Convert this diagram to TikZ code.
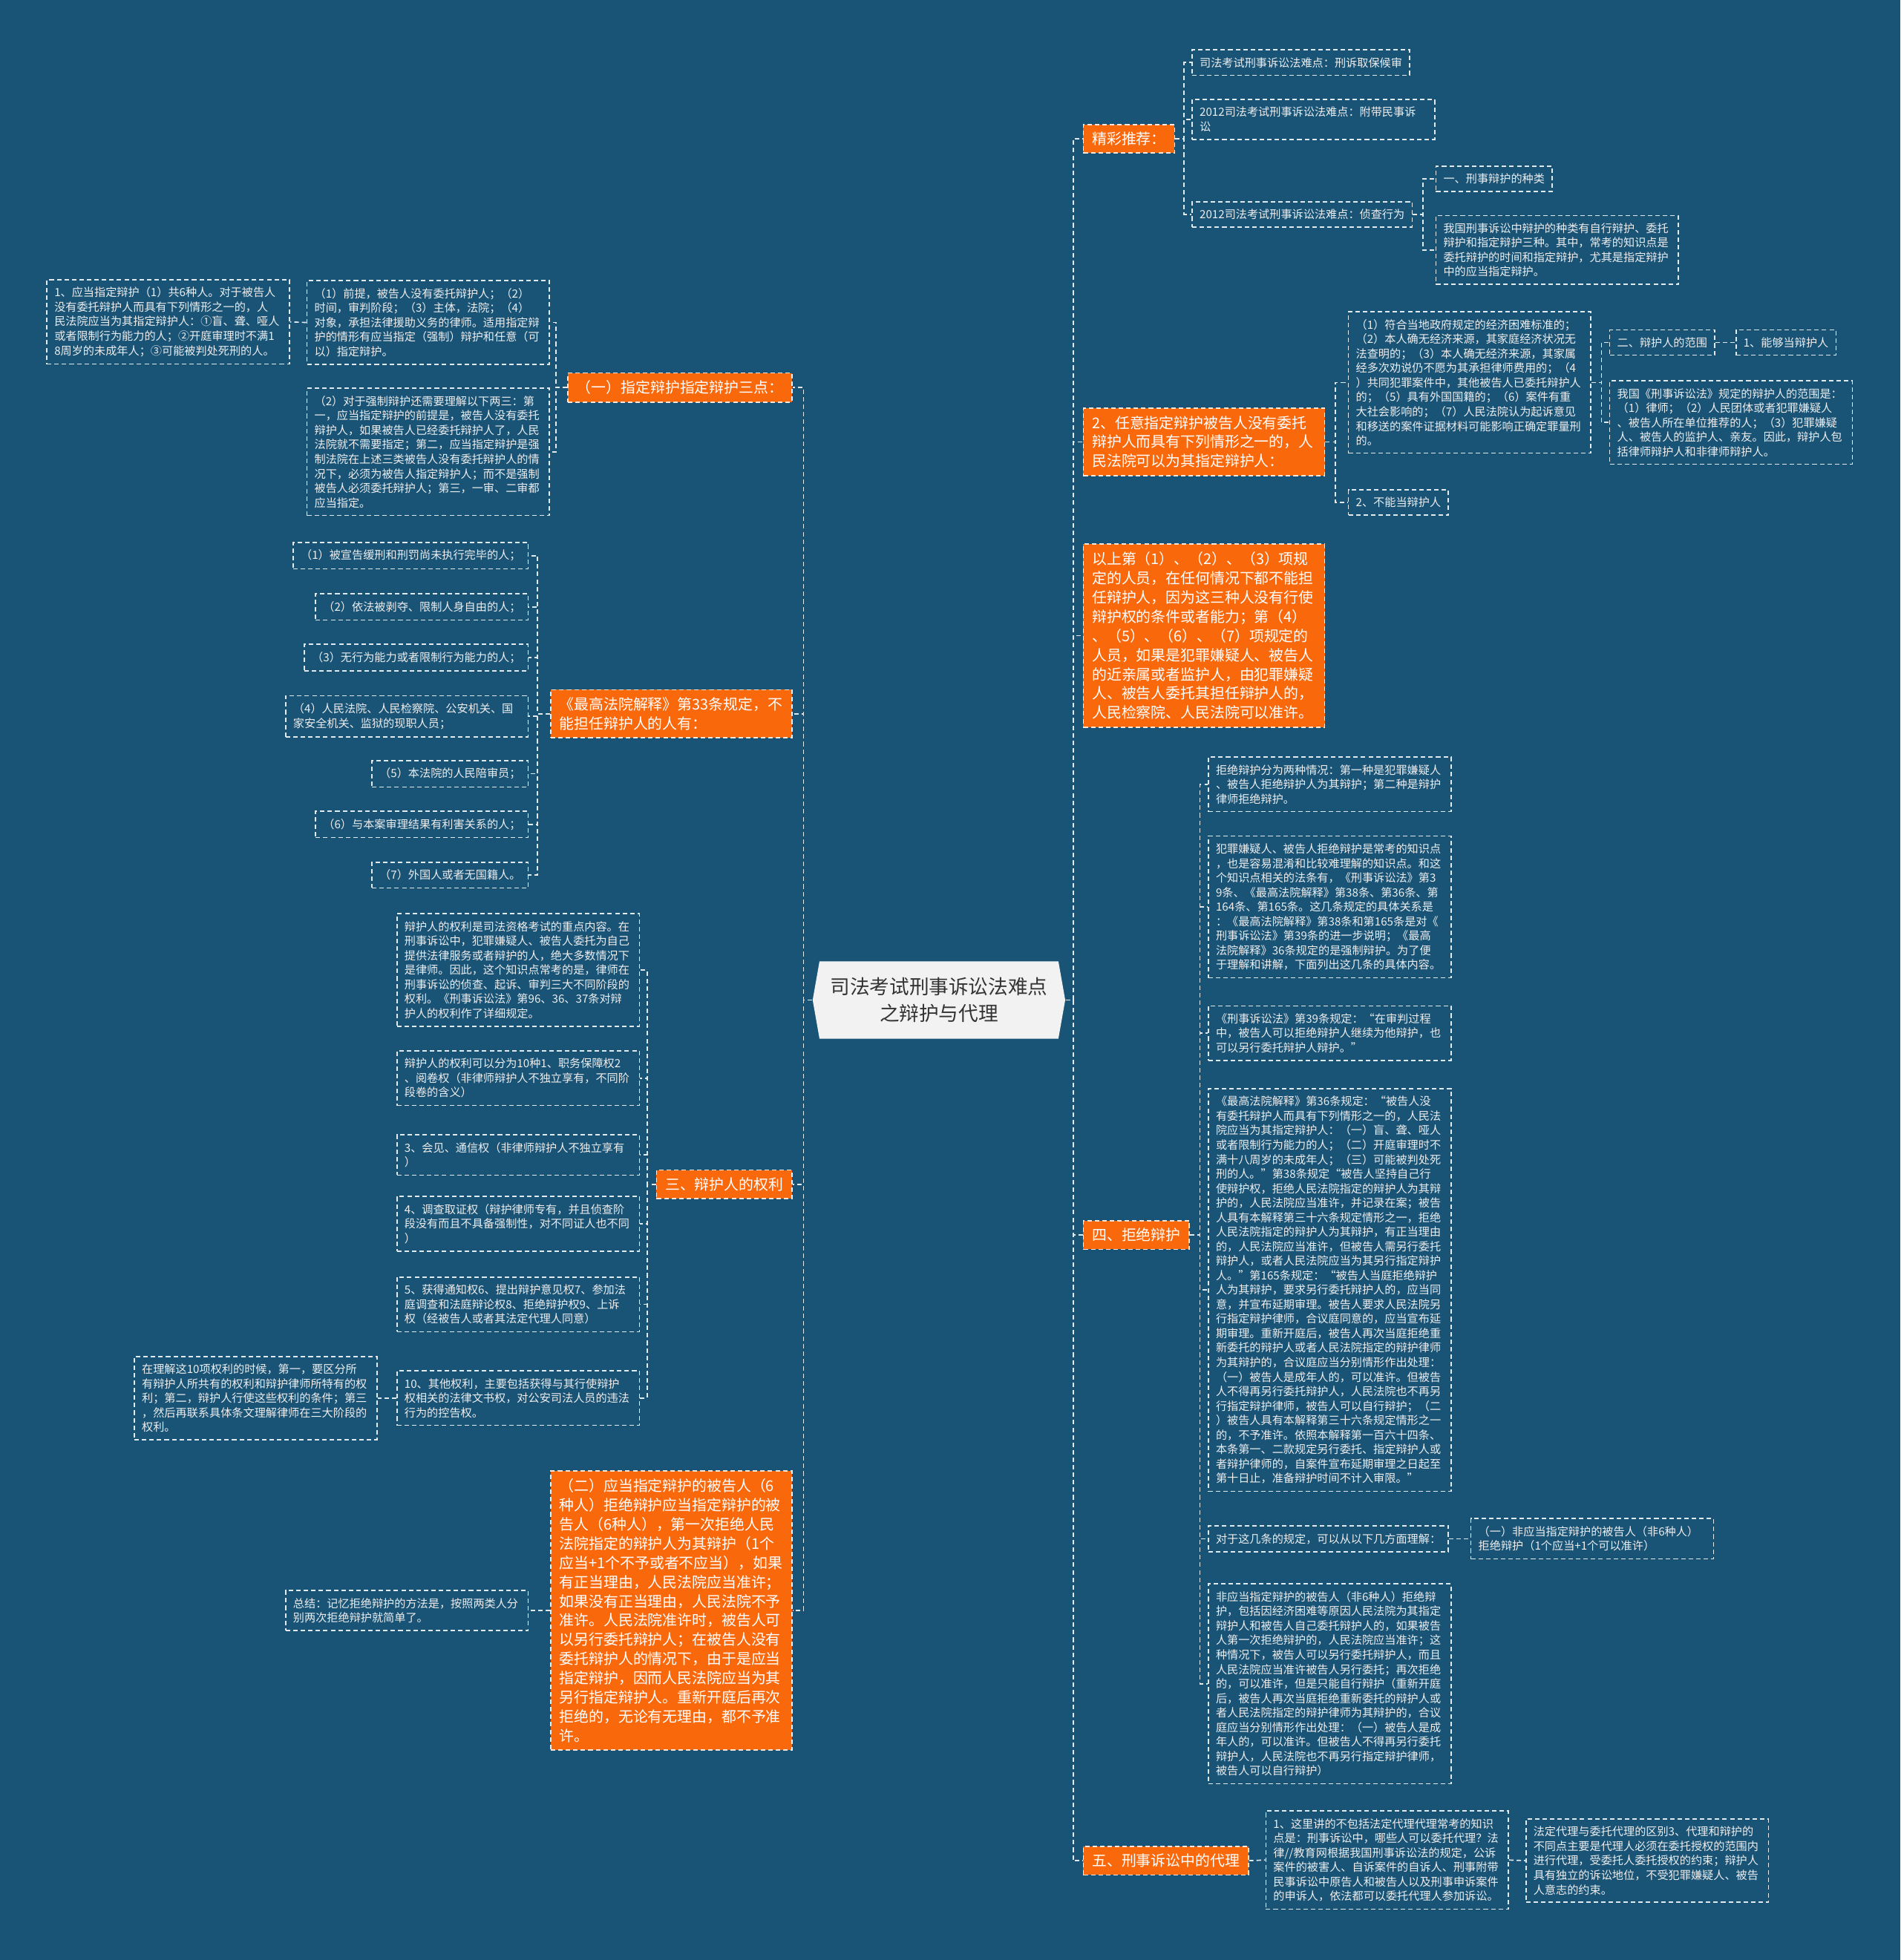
\documentclass[tikz,border=0pt]{standalone}
\usepackage{fontspec}
\setmainfont{Noto Sans CJK SC}
\usepackage{tikz}
\usetikzlibrary{shapes.symbols}

\definecolor{bgblue}{RGB}{25,84,119}
\definecolor{orangebox}{RGB}{250,104,12}
\definecolor{leaftext}{RGB}{238,238,238}
\definecolor{hubgray}{RGB}{242,242,242}

\tikzset{
  link/.style={draw=white!88!bgblue,line width=0.5pt,dash pattern=on 1.8pt off 1.2pt},
  leaf/.style={draw=white!88!bgblue,line width=0.5pt,dash pattern=on 1.8pt off 1.2pt,
    text=leaftext,font=\fontsize{4.5pt}{5.8pt}\selectfont,inner xsep=3pt,inner ysep=3pt,align=left},
  leafw/.style={leaf,text width=91pt},
  branch/.style={fill=orangebox,draw=white!85!orangebox,line width=0.5pt,dash pattern=on 1.8pt off 1.2pt,
    text=white,font=\fontsize{5.9pt}{7.7pt}\selectfont,inner xsep=3.5pt,inner ysep=3pt,align=left},
  branchw/.style={branch,text width=89.5pt},
  hub/.style={shape=signal,signal to=east and west,signal pointer angle=160,fill=hubgray,
    text=black!80,font=\fontsize{7.9pt}{10.5pt}\selectfont,align=center,minimum width=101pt,minimum height=31pt}
}

\begin{document}
\begin{tikzpicture}[x=0.5pt,y=-0.5pt]

\fill[bgblue] (0,0) rectangle (1520,1568);
\useasboundingbox (0,0) rectangle (1520,1568);

\node[hub] (hub) at (751,800) {司法考试刑事诉讼法难点\\之辩护与代理};

% right side
\node[branch,anchor=west] (R0) at (866,111) {精彩推荐：};
\node[leaf,anchor=west] (R0a) at (953,50) {司法考试刑事诉讼法难点：刑诉取保候审};
\node[leafw,anchor=west] (R0b) at (953,95.5) {2012司法考试刑事诉讼法难点：附带民事诉\\
讼};
\node[leaf,anchor=west] (R0c) at (953,171.5) {2012司法考试刑事诉讼法难点：侦查行为};
\node[leaf,anchor=west] (R0c1) at (1148,143) {一、刑事辩护的种类};
\node[leafw,anchor=west] (R0c2) at (1148,200) {我国刑事诉讼中辩护的种类有自行辩护、委托\\
辩护和指定辩护三种。其中，常考的知识点是\\
委托辩护的时间和指定辩护，尤其是指定辩护\\
中的应当指定辩护。};

\node[branchw,anchor=west] (R1) at (866,353.5) {2、任意指定辩护被告人没有委托\\
辩护人而具有下列情形之一的，人\\
民法院可以为其指定辩护人：};
\node[leafw,anchor=west] (R1a) at (1078,306) {（1）符合当地政府规定的经济困难标准的；\\
（2）本人确无经济来源，其家庭经济状况无\\
法查明的；（3）本人确无经济来源，其家属\\
经多次劝说仍不愿为其承担律师费用的；（4\\
）共同犯罪案件中，其他被告人已委托辩护人\\
的；（5）具有外国国籍的；（6）案件有重\\
大社会影响的；（7）人民法院认为起诉意见\\
和移送的案件证据材料可能影响正确定罪量刑\\
的。};
\node[leaf,anchor=west] (R1a1) at (1287,274) {二、辩护人的范围};
\node[leaf,anchor=west] (R1a1a) at (1388,274) {1、能够当辩护人};
\node[leafw,anchor=west] (R1a2) at (1287,338) {我国《刑事诉讼法》规定的辩护人的范围是：\\
（1）律师；（2）人民团体或者犯罪嫌疑人\\
、被告人所在单位推荐的人；（3）犯罪嫌疑\\
人、被告人的监护人、亲友。因此，辩护人包\\
括律师辩护人和非律师辩护人。};
\node[leaf,anchor=west] (R1b) at (1078,402) {2、不能当辩护人};

\node[branchw,anchor=west] (R2) at (866,508.5) {以上第（1）、（2）、（3）项规\\
定的人员，在任何情况下都不能担\\
任辩护人，因为这三种人没有行使\\
辩护权的条件或者能力；第（4）\\
、（5）、（6）、（7）项规定的\\
人员，如果是犯罪嫌疑人、被告人\\
的近亲属或者监护人，由犯罪嫌疑\\
人、被告人委托其担任辩护人的，\\
人民检察院、人民法院可以准许。};

\node[branch,anchor=west] (R3) at (866,988) {四、拒绝辩护};
\node[leafw,anchor=west] (R3a) at (966,627.5) {拒绝辩护分为两种情况：第一种是犯罪嫌疑人\\
、被告人拒绝辩护人为其辩护；第二种是辩护\\
律师拒绝辩护。};
\node[leafw,anchor=west] (R3b) at (966,725.5) {犯罪嫌疑人、被告人拒绝辩护是常考的知识点\\
，也是容易混淆和比较难理解的知识点。和这\\
个知识点相关的法条有，《刑事诉讼法》第3\\
9条、《最高法院解释》第38条、第36条、第\\
164条、第165条。这几条规定的具体关系是\\
：《最高法院解释》第38条和第165条是对《\\
刑事诉讼法》第39条的进一步说明；《最高\\
法院解释》36条规定的是强制辩护。为了便\\
于理解和讲解，下面列出这几条的具体内容。};
\node[leafw,anchor=west] (R3c) at (966,826.5) {《刑事诉讼法》第39条规定：“在审判过程\\
中，被告人可以拒绝辩护人继续为他辩护，也\\
可以另行委托辩护人辩护。”};
\node[leafw,anchor=west] (R3d) at (966,1032) {《最高法院解释》第36条规定：“被告人没\\
有委托辩护人而具有下列情形之一的，人民法\\
院应当为其指定辩护人：（一）盲、聋、哑人\\
或者限制行为能力的人；（二）开庭审理时不\\
满十八周岁的未成年人；（三）可能被判处死\\
刑的人。”第38条规定“被告人坚持自己行\\
使辩护权，拒绝人民法院指定的辩护人为其辩\\
护的，人民法院应当准许，并记录在案；被告\\
人具有本解释第三十六条规定情形之一，拒绝\\
人民法院指定的辩护人为其辩护，有正当理由\\
的，人民法院应当准许，但被告人需另行委托\\
辩护人，或者人民法院应当为其另行指定辩护\\
人。”第165条规定：“被告人当庭拒绝辩护\\
人为其辩护，要求另行委托辩护人的，应当同\\
意，并宣布延期审理。被告人要求人民法院另\\
行指定辩护律师，合议庭同意的，应当宣布延\\
期审理。重新开庭后，被告人再次当庭拒绝重\\
新委托的辩护人或者人民法院指定的辩护律师\\
为其辩护的，合议庭应当分别情形作出处理：\\
（一）被告人是成年人的，可以准许。但被告\\
人不得再另行委托辩护人，人民法院也不再另\\
行指定辩护律师，被告人可以自行辩护；（二\\
）被告人具有本解释第三十六条规定情形之一\\
的，不予准许。依照本解释第一百六十四条、\\
本条第一、二款规定另行委托、指定辩护人或\\
者辩护律师的，自案件宣布延期审理之日起至\\
第十日止，准备辩护时间不计入审限。”};
\node[leaf,anchor=west] (R3e) at (966,1231) {对于这几条的规定，可以从以下几方面理解：};
\node[leafw,anchor=west] (R3e1) at (1176,1231) {（一）非应当指定辩护的被告人（非6种人）\\
拒绝辩护（1个应当+1个可以准许）};
\node[leafw,anchor=west] (R3f) at (966,1347) {非应当指定辩护的被告人（非6种人）拒绝辩\\
护，包括因经济困难等原因人民法院为其指定\\
辩护人和被告人自己委托辩护人的，如果被告\\
人第一次拒绝辩护的，人民法院应当准许；这\\
种情况下，被告人可以另行委托辩护人，而且\\
人民法院应当准许被告人另行委托；再次拒绝\\
的，可以准许，但是只能自行辩护（重新开庭\\
后，被告人再次当庭拒绝重新委托的辩护人或\\
者人民法院指定的辩护律师为其辩护的，合议\\
庭应当分别情形作出处理：（一）被告人是成\\
年人的，可以准许。但被告人不得再另行委托\\
辩护人，人民法院也不再另行指定辩护律师，\\
被告人可以自行辩护）};

\node[branch,anchor=west] (R4) at (866,1488.5) {五、刑事诉讼中的代理};
\node[leafw,anchor=west] (R4a) at (1012,1488) {1、这里讲的不包括法定代理代理常考的知识\\
点是：刑事诉讼中，哪些人可以委托代理？法\\
律//教育网根据我国刑事诉讼法的规定，公诉\\
案件的被害人、自诉案件的自诉人、刑事附带\\
民事诉讼中原告人和被告人以及刑事申诉案件\\
的申诉人，依法都可以委托代理人参加诉讼。};
\node[leafw,anchor=west] (R4a1) at (1220,1488.5) {法定代理与委托代理的区别3、代理和辩护的\\
不同点主要是代理人必须在委托授权的范围内\\
进行代理，受委托人委托授权的约束；辩护人\\
具有独立的诉讼地位，不受犯罪嫌疑人、被告\\
人意志的约束。};

% left side
\node[branch,anchor=east] (L1) at (634,310) {（一）指定辩护指定辩护三点：};
\node[leafw,anchor=east] (L1a) at (440,258) {（1）前提，被告人没有委托辩护人；（2）\\
时间，审判阶段；（3）主体，法院；（4）\\
对象，承担法律援助义务的律师。适用指定辩\\
护的情形有应当指定（强制）辩护和任意（可\\
以）指定辩护。};
\node[leafw,anchor=east] (L1a1) at (232,257.5) {1、应当指定辩护（1）共6种人。对于被告人\\
没有委托辩护人而具有下列情形之一的，人\\
民法院应当为其指定辩护人：①盲、聋、哑人\\
或者限制行为能力的人；②开庭审理时不满1\\
8周岁的未成年人；③可能被判处死刑的人。};
\node[leafw,anchor=east] (L1b) at (440,361.5) {（2）对于强制辩护还需要理解以下两三：第\\
一，应当指定辩护的前提是，被告人没有委托\\
辩护人，如果被告人已经委托辩护人了，人民\\
法院就不需要指定；第二，应当指定辩护是强\\
制法院在上述三类被告人没有委托辩护人的情\\
况下，必须为被告人指定辩护人；而不是强制\\
被告人必须委托辩护人；第三，一审、二审都\\
应当指定。};

\node[branchw,anchor=east] (L2) at (634,571) {《最高法院解释》第33条规定，不\\
能担任辩护人的人有：};
\node[leaf,anchor=east] (L2a) at (423,444.5) {（1）被宣告缓刑和刑罚尚未执行完毕的人；};
\node[leaf,anchor=east] (L2b) at (423,485.5) {（2）依法被剥夺、限制人身自由的人；};
\node[leaf,anchor=east] (L2c) at (423,526) {（3）无行为能力或者限制行为能力的人；};
\node[leafw,anchor=east] (L2d) at (423,573) {（4）人民法院、人民检察院、公安机关、国\\
家安全机关、监狱的现职人员；};
\node[leaf,anchor=east] (L2e) at (423,619) {（5）本法院的人民陪审员；};
\node[leaf,anchor=east] (L2f) at (423,659.5) {（6）与本案审理结果有利害关系的人；};
\node[leaf,anchor=east] (L2g) at (423,700) {（7）外国人或者无国籍人。};

\node[branch,anchor=east] (L3) at (634,947.5) {三、辩护人的权利};
\node[leafw,anchor=east] (L3a) at (512,776) {辩护人的权利是司法资格考试的重点内容。在\\
刑事诉讼中，犯罪嫌疑人、被告人委托为自己\\
提供法律服务或者辩护的人，绝大多数情况下\\
是律师。因此，这个知识点常考的是，律师在\\
刑事诉讼的侦查、起诉、审判三大不同阶段的\\
权利。《刑事诉讼法》第96、36、37条对辩\\
护人的权利作了详细规定。};
\node[leafw,anchor=east] (L3b) at (512,862.5) {辩护人的权利可以分为10种1、职务保障权2\\
、阅卷权（非律师辩护人不独立享有，不同阶\\
段卷的含义）};
\node[leafw,anchor=east] (L3c) at (512,924) {3、会见、通信权（非律师辩护人不独立享有\\
）};
\node[leafw,anchor=east] (L3d) at (512,979) {4、调查取证权（辩护律师专有，并且侦查阶\\
段没有而且不具备强制性，对不同证人也不同\\
）};
\node[leafw,anchor=east] (L3e) at (512,1043.5) {5、获得通知权6、提出辩护意见权7、参加法\\
庭调查和法庭辩论权8、拒绝辩护权9、上诉\\
权（经被告人或者其法定代理人同意）};
\node[leafw,anchor=east] (L3f) at (512,1118.5) {10、其他权利，主要包括获得与其行使辩护\\
权相关的法律文书权，对公安司法人员的违法\\
行为的控告权。};
\node[leafw,anchor=east] (L3f1) at (302,1118.5) {在理解这10项权利的时候，第一，要区分所\\
有辩护人所共有的权利和辩护律师所特有的权\\
利；第二，辩护人行使这些权利的条件；第三\\
，然后再联系具体条文理解律师在三大阶段的\\
权利。};

\node[branchw,anchor=east] (L4) at (634,1288.5) {（二）应当指定辩护的被告人（6\\
种人）拒绝辩护应当指定辩护的被\\
告人（6种人），第一次拒绝人民\\
法院指定的辩护人为其辩护（1个\\
应当+1个不予或者不应当），如果\\
有正当理由，人民法院应当准许；\\
如果没有正当理由，人民法院不予\\
准许。人民法院准许时，被告人可\\
以另行委托辩护人；在被告人没有\\
委托辩护人的情况下，由于是应当\\
指定辩护，因而人民法院应当为其\\
另行指定辩护人。重新开庭后再次\\
拒绝的，无论有无理由，都不予准\\
许。};
\node[leafw,anchor=east] (L4a) at (423,1288.5) {总结：记忆拒绝辩护的方法是，按照两类人分\\
别两次拒绝辩护就简单了。};

% connectors
\foreach \c in {R0,R1,R2,R3,R4} \draw[link] (hub.east) -- ++(6,0) |- (\c.west);
\foreach \c in {L1,L2,L3,L4} \draw[link] (hub.west) -- ++(-7,0) |- (\c.east);

\foreach \c in {R0a,R0b,R0c} \draw[link] (R0.east) -- ++(7,0) |- (\c.west);
\foreach \c in {R0c1,R0c2} \draw[link] (R0c.east) -- ++(8,0) |- (\c.west);
\foreach \c in {R1a,R1b} \draw[link] (R1.east) -- ++(8,0) |- (\c.west);
\foreach \c in {R1a1,R1a2} \draw[link] (R1a.east) -- ++(8,0) |- (\c.west);
\draw[link] (R1a1.east) -- (R1a1a.west);
\foreach \c in {R3a,R3b,R3c,R3d,R3e,R3f} \draw[link] (R3.east) -- ++(8,0) |- (\c.west);
\draw[link] (R3e.east) -- (R3e1.west);
\draw[link] (R4.east) -- (R4a.west);
\draw[link] (R4a.east) -- (R4a1.west);

\foreach \c in {L1a,L1b} \draw[link] (L1.west) -- ++(-9,0) |- (\c.east);
\draw[link] (L1a.west) -- (L1a1.east);
\foreach \c in {L2a,L2b,L2c,L2d,L2e,L2f,L2g} \draw[link] (L2.west) -- ++(-10,0) |- (\c.east);
\foreach \c in {L3a,L3b,L3c,L3d,L3e,L3f} \draw[link] (L3.west) -- ++(-7,0) |- (\c.east);
\draw[link] (L3f.west) -- (L3f1.east);
\draw[link] (L4.west) -- (L4a.east);

\end{tikzpicture}
\end{document}
